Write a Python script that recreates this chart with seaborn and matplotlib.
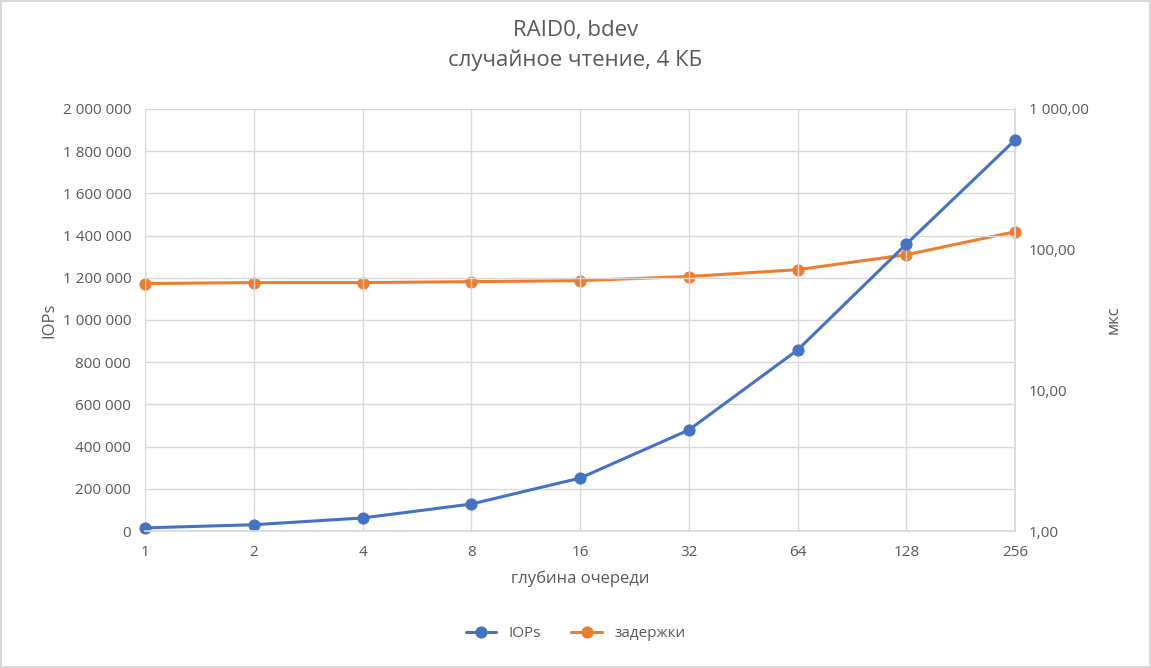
import matplotlib
matplotlib.use("Agg")
import matplotlib.pyplot as plt
import seaborn as sns
import numpy as np
from matplotlib.ticker import FuncFormatter, FixedLocator, NullLocator

sns.set_theme(style="white")
plt.rcParams['font.family'] = ['Open Sans', 'DejaVu Sans']

depth = ["1", "2", "4", "8", "16", "32", "64", "128", "256"]
iops = [15000, 30000, 62000, 128000, 251000, 479000, 858000, 1360000, 1853000]
lat = [57.4, 58.3, 58.3, 59.2, 60.2, 64.4, 72.0, 92.0, 134.0]

blue = "#4472C4"; orange = "#ED7D31"; txt = "#595959"; grid = "#D9D9D9"

fig = plt.figure(figsize=(11.51, 6.68), dpi=100)
fig.patch.set_edgecolor("#D9D9D9"); fig.patch.set_linewidth(1.5)
ax = fig.add_axes([0.126, 0.205, 0.756, 0.632])
x = np.arange(len(depth))
ax2 = ax.twinx()
sns.lineplot(x=x, y=lat, ax=ax2, color=orange, marker="o", markersize=8, linewidth=2.2,
             markeredgecolor=orange, label="задержки", legend=False, clip_on=False)
sns.lineplot(x=x, y=iops, ax=ax, color=blue, marker="o", markersize=8, linewidth=2.2,
             markeredgecolor=blue, label="IOPs", legend=False, clip_on=False)
ax.set_zorder(ax2.get_zorder() + 1); ax.patch.set_visible(False)
ax2.set_yscale("log")
ax2.set_ylim(1, 1000)
ax2.yaxis.set_major_locator(FixedLocator([1, 10, 100, 1000]))
ax2.yaxis.set_minor_locator(NullLocator())
ax2.yaxis.set_major_formatter(FuncFormatter(lambda v, p: f"{v:,.2f}".replace(",", " ").replace(".", ",")))
ax.set_ylim(0, 2000000)
ax.set_yticks(np.arange(0, 2000001, 200000))
ax.yaxis.set_major_formatter(FuncFormatter(lambda v, p: f"{int(v):,}".replace(",", " ")))
ax.set_xlim(0, len(depth) - 1)
ax.set_xticks(x); ax.set_xticklabels(depth)
ax.grid(True, color=grid, linewidth=1)
for a in (ax, ax2):
    for s in a.spines.values(): s.set_visible(False)
    a.tick_params(colors=txt, labelsize=11, length=0, pad=10)
ax.spines["bottom"].set_visible(True); ax.spines["bottom"].set_color(grid)
ax2.spines["right"].set_visible(True); ax2.spines["right"].set_color(grid)
ax.set_xlabel("глубина очереди", color=txt, fontsize=12, labelpad=8)
ax.set_ylabel("IOPs", color=txt, fontsize=12)
ax2.set_ylabel("мкс", color=txt, fontsize=12, labelpad=12)
fig.suptitle("RAID0, bdev\nслучайное чтение, 4 КБ", color=txt, fontsize=16, y=0.97, linespacing=1.5)
h1, l1 = ax.get_legend_handles_labels(); h2, l2 = ax2.get_legend_handles_labels()
fig.legend(h1 + h2, l1 + l2, loc="lower center", ncol=2, frameon=False, fontsize=11,
           labelcolor=txt, bbox_to_anchor=(0.5, 0.02))
fig.savefig("out.png", dpi=100, edgecolor=fig.get_edgecolor())
